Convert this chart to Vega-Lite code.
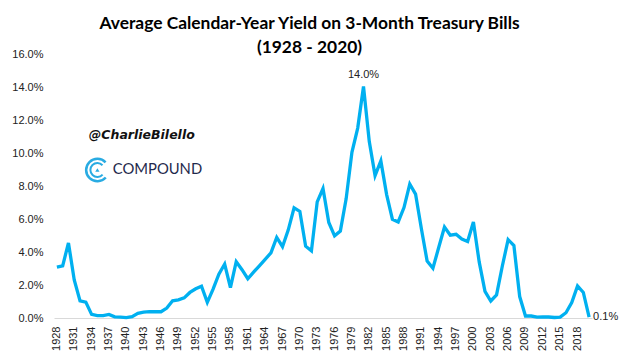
{"$schema":"https://vega.github.io/schema/vega-lite/v6.json","width":538,"height":264,"autosize":{"type":"none"},"padding":{"left":54,"top":54,"right":38,"bottom":40},"background":"white",
"title":{"text":["Average Calendar-Year Yield on 3-Month Treasury Bills","(1928 - 2020)"],"font":"Lato","fontSize":17.4,"fontWeight":"bold","color":"#000000","anchor":"middle","dx":-13.5,"offset":-26,"lineHeight":23.5,"baseline":"bottom"},
"config":{"view":{"stroke":null}},
"datasets":{"s":[
{"y":1928,"v":3.08},{"y":1929,"v":3.16},{"y":1930,"v":4.55},{"y":1931,"v":2.31},{"y":1932,"v":1.04},{"y":1933,"v":0.96},{"y":1934,"v":0.22},{"y":1935,"v":0.15},{"y":1936,"v":0.15},{"y":1937,"v":0.22},{"y":1938,"v":0.07},{"y":1939,"v":0.05},{"y":1940,"v":0.02},{"y":1941,"v":0.08},{"y":1942,"v":0.28},{"y":1943,"v":0.35},{"y":1944,"v":0.38},{"y":1945,"v":0.38},{"y":1946,"v":0.38},{"y":1947,"v":0.6},{"y":1948,"v":1.04},{"y":1949,"v":1.1},{"y":1950,"v":1.22},{"y":1951,"v":1.55},{"y":1952,"v":1.77},{"y":1953,"v":1.93},{"y":1954,"v":0.95},{"y":1955,"v":1.75},{"y":1956,"v":2.66},{"y":1957,"v":3.27},{"y":1958,"v":1.84},{"y":1959,"v":3.41},{"y":1960,"v":2.93},{"y":1961,"v":2.38},{"y":1962,"v":2.78},{"y":1963,"v":3.16},{"y":1964,"v":3.55},{"y":1965,"v":3.95},{"y":1966,"v":4.88},{"y":1967,"v":4.32},{"y":1968,"v":5.34},{"y":1969,"v":6.68},{"y":1970,"v":6.46},{"y":1971,"v":4.35},{"y":1972,"v":4.07},{"y":1973,"v":7.04},{"y":1974,"v":7.85},{"y":1975,"v":5.79},{"y":1976,"v":4.98},{"y":1977,"v":5.27},{"y":1978,"v":7.22},{"y":1979,"v":10.04},{"y":1980,"v":11.51},{"y":1981,"v":14.03},{"y":1982,"v":10.69},{"y":1983,"v":8.63},{"y":1984,"v":9.52},{"y":1985,"v":7.48},{"y":1986,"v":5.98},{"y":1987,"v":5.82},{"y":1988,"v":6.69},{"y":1989,"v":8.12},{"y":1990,"v":7.51},{"y":1991,"v":5.42},{"y":1992,"v":3.45},{"y":1993,"v":3.02},{"y":1994,"v":4.27},{"y":1995,"v":5.51},{"y":1996,"v":5.02},{"y":1997,"v":5.07},{"y":1998,"v":4.78},{"y":1999,"v":4.64},{"y":2000,"v":5.82},{"y":2001,"v":3.4},{"y":2002,"v":1.61},{"y":2003,"v":1.03},{"y":2004,"v":1.4},{"y":2005,"v":3.15},{"y":2006,"v":4.75},{"y":2007,"v":4.39},{"y":2008,"v":1.3},{"y":2009,"v":0.12},{"y":2010,"v":0.12},{"y":2011,"v":0.05},{"y":2012,"v":0.07},{"y":2013,"v":0.06},{"y":2014,"v":0.03},{"y":2015,"v":0.05},{"y":2016,"v":0.32},{"y":2017,"v":0.93},{"y":2018,"v":1.94},{"y":2019,"v":1.55},{"y":2020,"v":0.05}]},
"data":{"name":"s"},
"encoding":{"x":{"field":"y","type":"ordinal","scale":{"type":"band"},"axis":{"title":null,"values":[1928,1931,1934,1937,1940,1943,1946,1949,1952,1955,1958,1961,1964,1967,1970,1973,1976,1979,1982,1985,1988,1991,1994,1997,2000,2003,2006,2009,2012,2015,2018],"labelAngle":270,"labelFont":"Liberation Sans","labelFontSize":11,"labelColor":"#222222","domainColor":"#d9d9d9","domainWidth":1,"ticks":false,"labelPadding":8,"labelBaseline":"middle","labelAlign":"right"}},
"y":{"field":"v","type":"quantitative","scale":{"domain":[0,16]},"axis":{"title":null,"values":[0,2,4,6,8,10,12,14,16],"labelExpr":"format(datum.value,'.1f')+'%'","labelFont":"Liberation Sans","labelFontSize":11,"labelColor":"#222222","domain":false,"ticks":false,"grid":false,"labelPadding":11}}},
"layer":[
{"mark":{"type":"line","color":"#00b0f0","strokeWidth":3.3,"interpolate":"linear","strokeJoin":"miter","clip":false}},
{"transform":[{"filter":"datum.y==1981"}],"mark":{"type":"text","font":"Liberation Sans","fontSize":11,"color":"#222222","dy":-12},"encoding":{"text":{"value":"14.0%"}}},
{"transform":[{"filter":"datum.y==2020"}],"mark":{"type":"text","font":"Liberation Sans","fontSize":11,"color":"#222222","align":"left","dx":4,"dy":0},"encoding":{"text":{"value":"0.1%"}}},
{"data":{"values":[{"y":1933,"v":11.1,"t":"@CharlieBilello"}]},"mark":{"type":"text","font":"DejaVu Sans","fontStyle":"italic","fontWeight":"bold","fontSize":12.5,"color":"#111111","align":"left","dx":3},"encoding":{"text":{"field":"t"}}},
{"data":{"values":[{"y":1938,"v":8.97,"t":"COMPOUND"}]},"mark":{"type":"text","font":"Lato","fontSize":14.8,"color":"#1f2a4d","align":"left","dx":-2},"encoding":{"text":{"field":"t"}}},
{"data":{"values":[{"y":1935,"v":8.97}]},"mark":{"type":"arc","radius":12.5,"radius2":10,"theta":2.3,"theta2":7.1,"color":"#29abe2"}},
{"data":{"values":[{"y":1935,"v":8.97}]},"mark":{"type":"arc","radius":8,"radius2":6,"theta":2.3,"theta2":7.1,"color":"#29abe2"}},
{"data":{"values":[{"y":1935,"v":8.97}]},"mark":{"type":"point","shape":"triangle-up","size":18,"filled":true,"opacity":1,"color":"#29abe2"}}
]}
